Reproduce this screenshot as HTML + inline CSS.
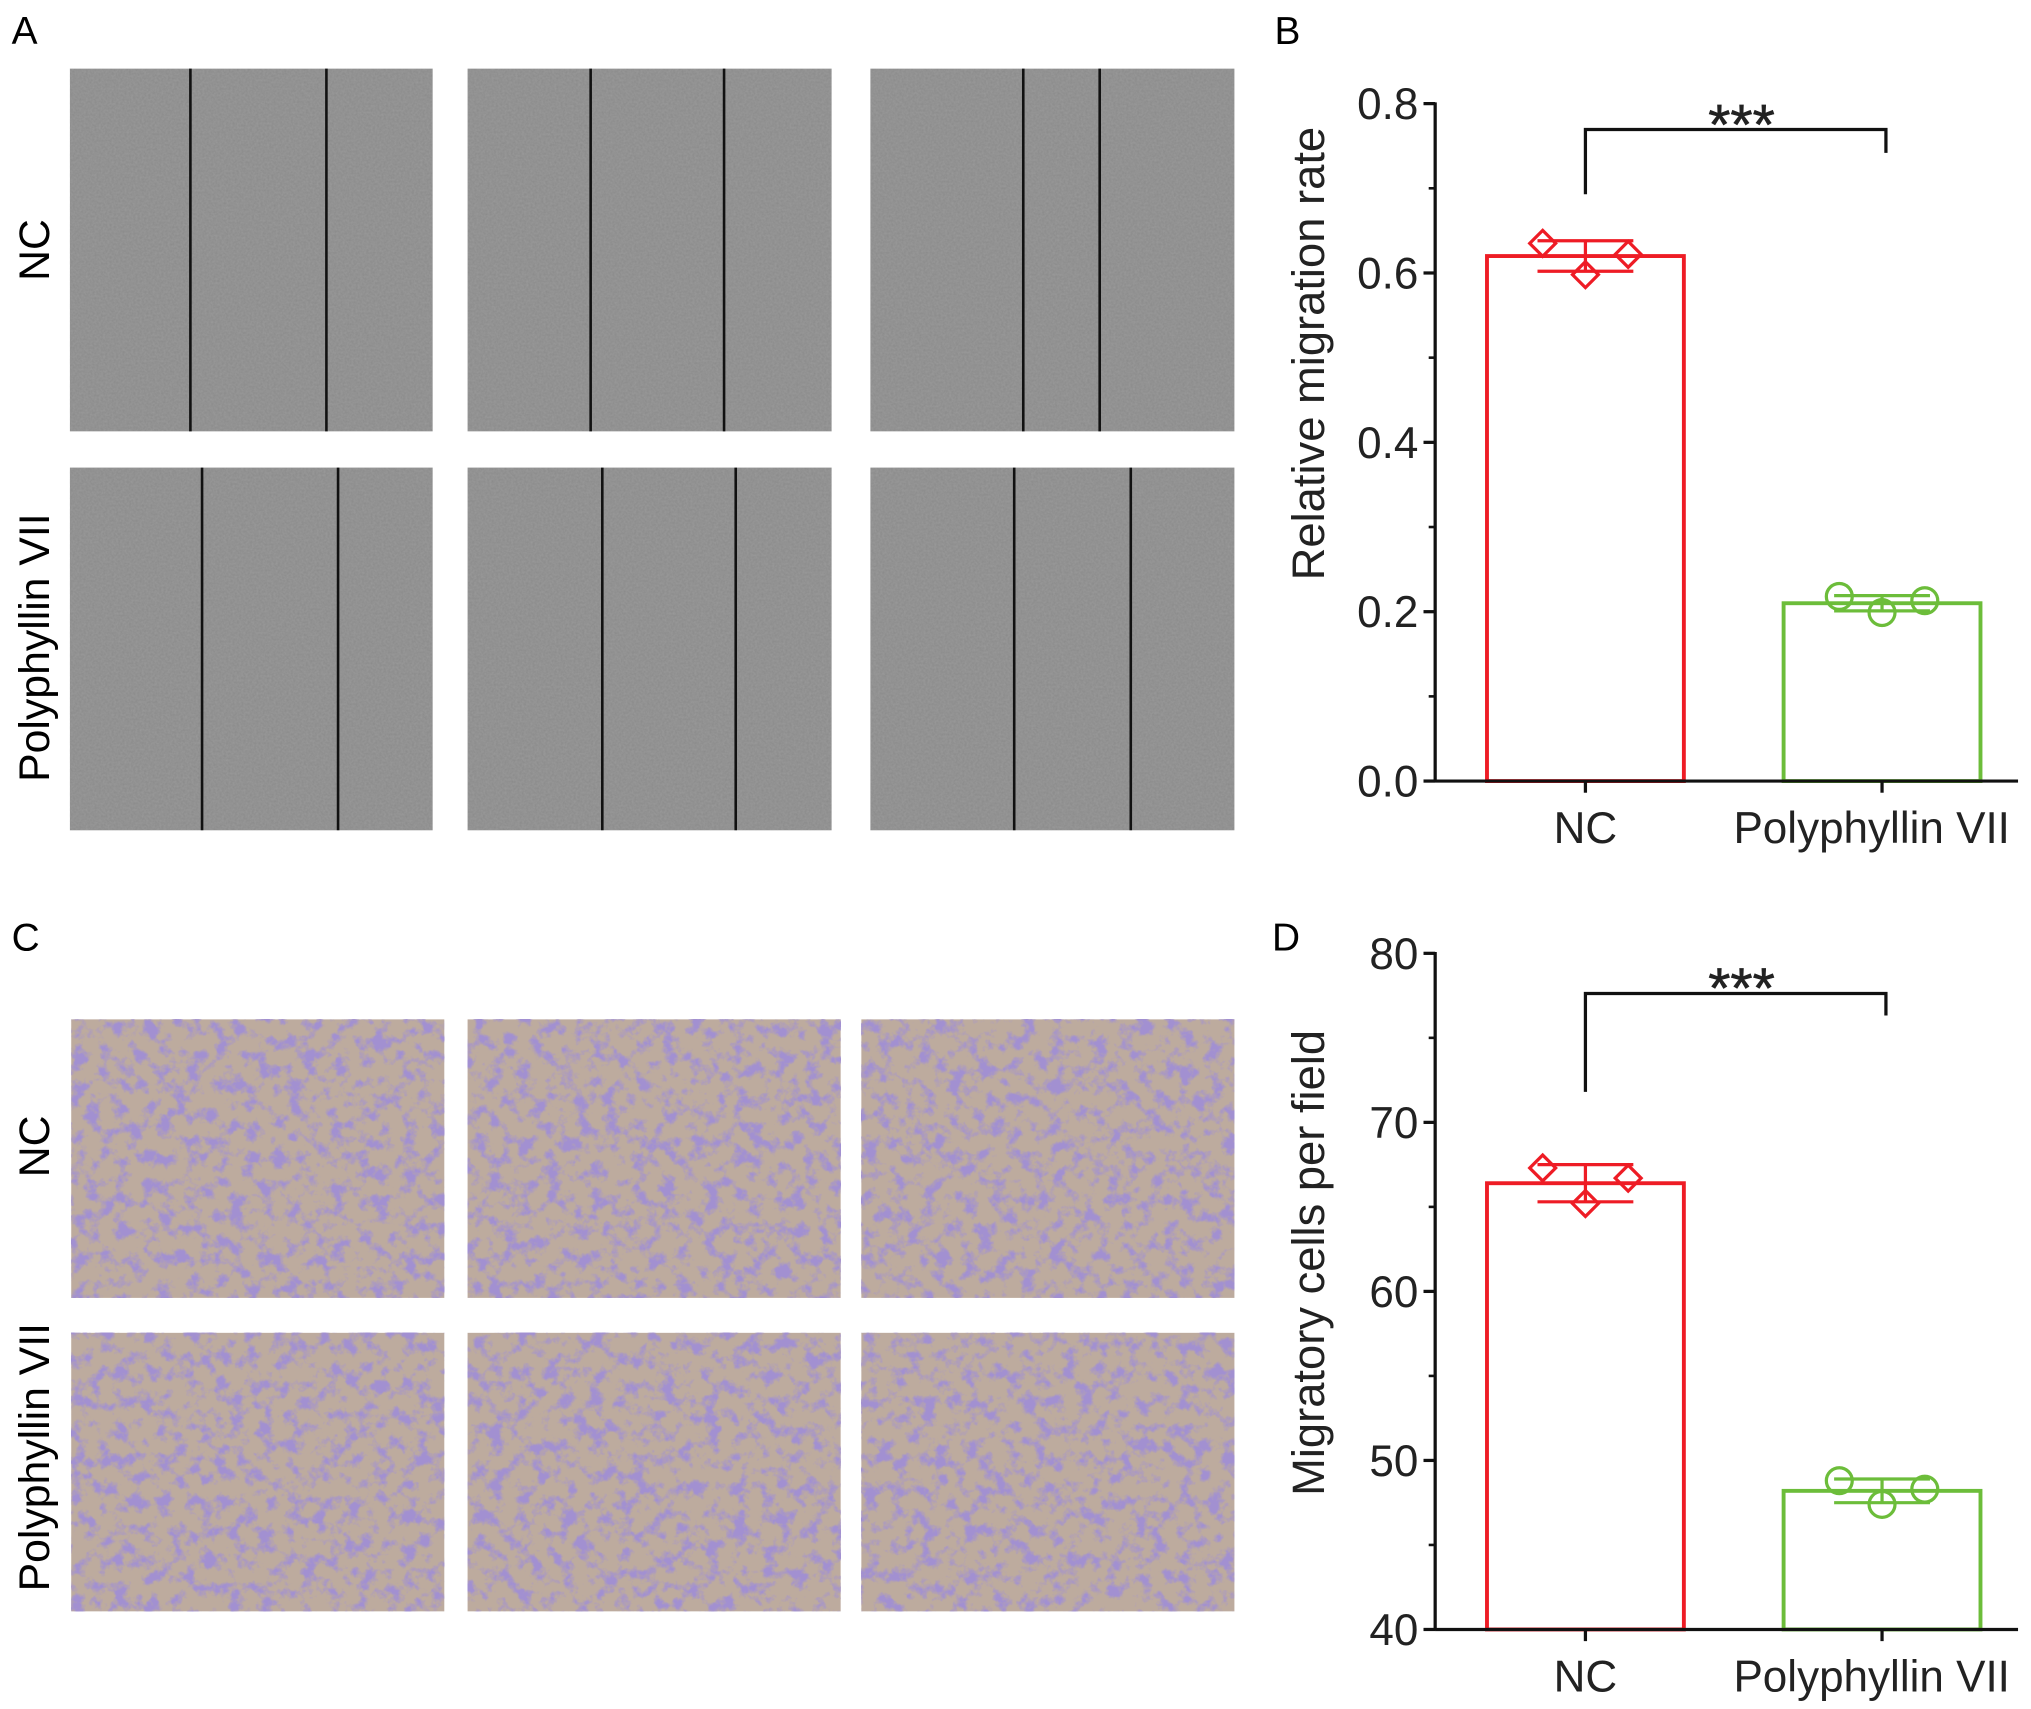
<!DOCTYPE html>
<html><head><meta charset="utf-8"><style>
html,body{margin:0;padding:0;background:#fff;}
svg{display:block;font-family:"Liberation Sans",Arial,sans-serif;}
</style></head><body>
<svg id="fig" width="2031" height="1709" viewBox="0 0 1568 1319.4" xmlns="http://www.w3.org/2000/svg">
<defs>
<filter id="grain" x="0" y="0" width="100%" height="100%">
<feTurbulence type="fractalNoise" baseFrequency="0.6" numOctaves="2" seed="3"/>
<feColorMatrix type="matrix" values="0 0 0 0 0.5  0 0 0 0 0.5  0 0 0 0 0.5  0 0 0 0.35 -0.05"/>
</filter>
<filter id="cells" x="0" y="0" width="100%" height="100%">
<feTurbulence type="fractalNoise" baseFrequency="0.09" numOctaves="4" seed="7"/>
<feColorMatrix type="matrix" values="0 0 0 0 0.36  0 0 0 0 0.28  0 0 0 0 0.64  4.5 0 0 0 -2.15"/>
</filter>
</defs>
<g id="panelA"></g>
<g id="panelC"></g>
<g id="chartB"></g>
<g id="chartD"></g>
<text x="9" y="34" font-size="30">A</text>
<text x="984" y="34" font-size="30">B</text>
<text x="9" y="734" font-size="30">C</text>
<text x="982" y="734" font-size="30">D</text>
</svg>
<script>
const NS='http://www.w3.org/2000/svg';
function mk(p,t,a,txt){const e=document.createElementNS(NS,t);for(const k in a)e.setAttribute(k,a[k]);if(txt!=null)e.textContent=txt;p.appendChild(e);return e;}

// ---- Chart data ----
const categories=['NC','Polyphyllin VII'];
const bMeans=[0.62,0.21];
const bErr=[0.018,0.009];
const bPointsNC=[0.635,0.598,0.622];
const bPointsPV=[0.218,0.199,0.213];
const bTicks=['0.0','0.2','0.4','0.6','0.8'];
const dMeans=[66.4,48.2];
const dErr=[1.1,0.7];
const dPointsNC=[67.3,65.2,66.7];
const dPointsPV=[48.8,47.4,48.3];
const dTicks=['40','50','60','70','80'];

// ---- Images ----
const A=document.getElementById('panelA');
const aCols=[[54,334],[361,642],[672,953]],aRows=[[53,333],[361,641]];
const wound=[[[147,252],[456,559],[790,849]],[[156,261],[465,568],[783,873]]];
aRows.forEach((r,ri)=>aCols.forEach((c,ci)=>{
 const g=mk(A,'g',{});
 
 
 mk(g,'rect',{x:c[0],y:r[0],width:c[1]-c[0],height:r[1]-r[0],fill:'#8c8c8c'});
 mk(g,'rect',{x:c[0],y:r[0],width:c[1]-c[0],height:r[1]-r[0],filter:'url(#grain)'});
 wound[ri][ci].forEach(x=>mk(g,'line',{x1:x,x2:x,y1:r[0],y2:r[1],stroke:'#111',"stroke-width":2}));
}));
const C=document.getElementById('panelC');
const cCols=[[55,343],[361,649],[665,953]],cRows=[[787,1002],[1029,1244]];
cRows.forEach((r,ri)=>cCols.forEach((c,ci)=>{
 const g=mk(C,'g',{});
 
 
 mk(g,'rect',{x:c[0],y:r[0],width:c[1]-c[0],height:r[1]-r[0],fill:'#c6b39c'});
 mk(g,'rect',{x:c[0],y:r[0],width:c[1]-c[0],height:r[1]-r[0],fill:'#8c7fb0',opacity:0.15});
 mk(g,'rect',{x:c[0],y:r[0],width:c[1]-c[0],height:r[1]-r[0],filter:'url(#cells)'});
}));
function rot(x,y,t,n){const e=mk(document.getElementById('fig'),'text',{x:x,y:y,'font-size':33,'text-anchor':'middle',transform:`rotate(-90 ${x} ${y})`},t);
 }
rot(38,193,'NC','row-label-a-nc');rot(38,500,'Polyphyllin VII','row-label-a-pv');
rot(38,885,'NC','row-label-c-nc');rot(38,1125,'Polyphyllin VII','row-label-c-pv');

// ---- Bar charts ----
function chart(gid,y0px,y1px,vmin,vmax,ticks,means,errs,ptsNC,ptsPV,title,titleY,brk){
 const g=document.getElementById(gid);
 const ys=v=>y0px-(v-vmin)/(vmax-vmin)*(y0px-y1px);
 const ax=1108,barW=152,cx=[1224,1453];
 const cols=['#ee1c25','#6cbd3a'];
 means.forEach((m,i)=>{
  const b=mk(g,'rect',{x:cx[i]-barW/2,y:ys(m),width:barW,height:y0px-ys(m),fill:'none',stroke:cols[i],'stroke-width':3});
  
  
  const t=ys(m+errs[i]),bo=ys(m-errs[i]);
  mk(g,'line',{x1:cx[i],x2:cx[i],y1:t,y2:bo,stroke:cols[i],'stroke-width':2.5});
  mk(g,'line',{x1:cx[i]-37,x2:cx[i]+37,y1:t,y2:t,stroke:cols[i],'stroke-width':2.5});
  mk(g,'line',{x1:cx[i]-37,x2:cx[i]+37,y1:bo,y2:bo,stroke:cols[i],'stroke-width':2.5});
 });
 const offs=[-33,0,33];
 ptsNC.forEach((v,j)=>{const x=cx[0]+offs[j],y=ys(v);
  const p=mk(g,'polygon',{points:`${x},${y-10} ${x+10},${y} ${x},${y+10} ${x-10},${y}`,fill:'none',stroke:cols[0],'stroke-width':2.5});
  });
 ptsPV.forEach((v,j)=>{const x=cx[1]+offs[j],y=ys(v);
  const p=mk(g,'circle',{cx:x,cy:y,r:10,fill:'none',stroke:cols[1],'stroke-width':2.5});
  });
 const ya=mk(g,'line',{x1:ax,x2:ax,y1:y1px-1,y2:y0px+1,stroke:'#111','stroke-width':2.5});
 
 const xa=mk(g,'line',{x1:ax,x2:1558,y1:y0px,y2:y0px,stroke:'#111','stroke-width':2.5});
 
 ticks.forEach((t,i)=>{const y=y0px-i*(y0px-y1px)/(ticks.length-1);
  mk(g,'line',{x1:ax-9,x2:ax,y1:y,y2:y,stroke:'#111','stroke-width':2.5});
  if(i<ticks.length-1){const ym=y-(y0px-y1px)/(ticks.length-1)/2;mk(g,'line',{x1:ax-5,x2:ax,y1:ym,y2:ym,stroke:'#111','stroke-width':2});}
  const e=mk(g,'text',{x:ax-13,y:y+12,'font-size':34,'text-anchor':'end',fill:'#222'},t);
  });
 categories.forEach((c,i)=>{
  mk(g,'line',{x1:cx[i],x2:cx[i],y1:y0px,y2:y0px+9,stroke:'#111','stroke-width':2.5});
  const e=mk(g,'text',{x:cx[i]+(i?-8:0),y:y0px+48,'font-size':34,'text-anchor':'middle',fill:'#222'},c);
  });
 const tx=1022,ty=titleY;
 const tt=mk(g,'text',{x:tx,y:ty,'font-size':35,'text-anchor':'middle',fill:'#222',transform:`rotate(-90 ${tx} ${ty})`},title);
 
 const bp=mk(g,'polyline',{points:`${cx[0]},${brk[1]} ${cx[0]},${brk[0]} ${cx[1]+3},${brk[0]} ${cx[1]+3},${brk[2]}`,fill:'none',stroke:'#111','stroke-width':2.5});
 
 const st=mk(g,'text',{x:(cx[0]+cx[1])/2+6,y:brk[0]+11,'font-size':44,'text-anchor':'middle',fill:'#222',stroke:'#222','stroke-width':0.5},'***');
 
}
chart('chartB',603,80,0,0.8,bTicks,bMeans,bErr,bPointsNC,bPointsPV,'Relative migration rate',273,[100,150,118]);
chart('chartD',1258,736,40,80,dTicks,dMeans,dErr,dPointsNC,dPointsPV,'Migratory cells per field',975,[767,843,784]);
</script>
</body></html>
